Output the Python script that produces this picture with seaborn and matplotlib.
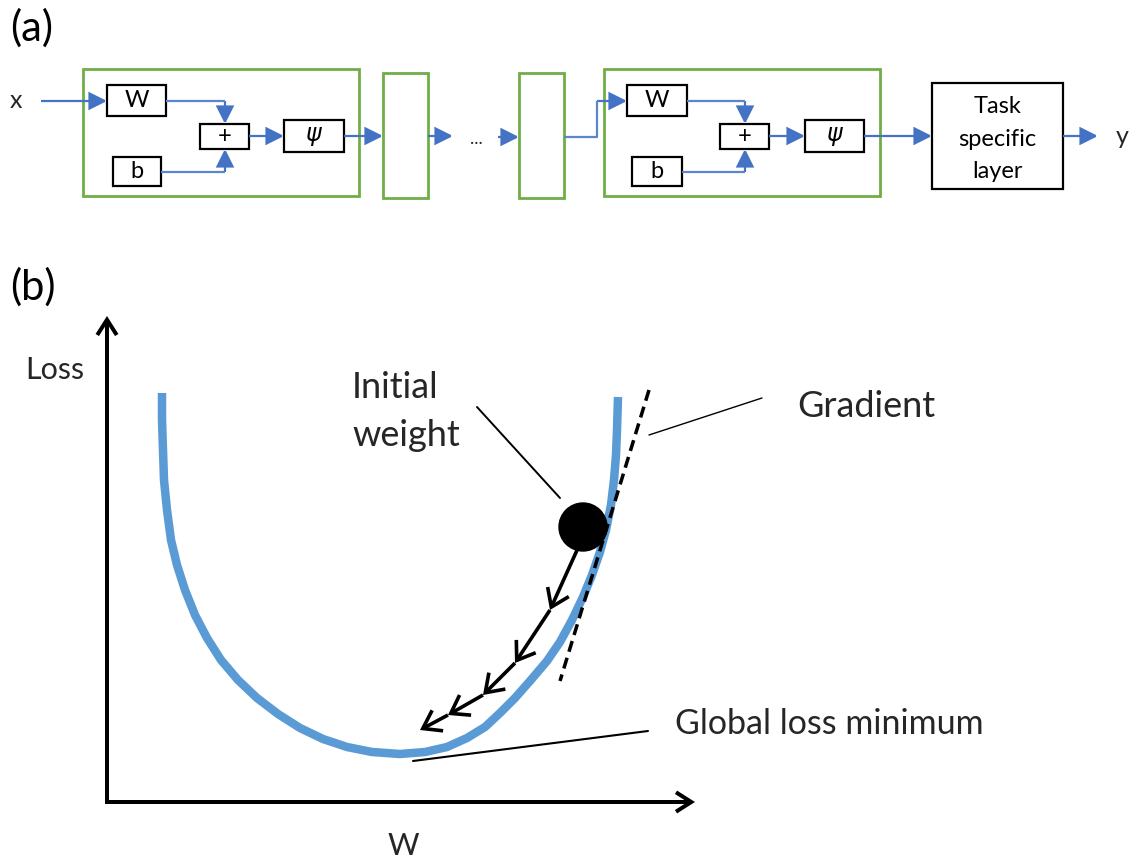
import matplotlib
matplotlib.use("Agg")
import matplotlib.pyplot as plt
from matplotlib.patches import Rectangle, Circle, FancyArrowPatch, ArrowStyle
import numpy as np
import pandas as pd
import seaborn as sns

# ---------------- data (pixel coordinates) ----------------
# Panel (b): loss curve
curve_w = [162, 162, 163, 164, 167, 171, 177, 185, 195, 207, 221, 238, 257, 278, 300,
           323, 347, 372, 400, 425, 447, 467, 485, 500, 515, 530, 547, 560, 572, 583,
           592, 600, 606, 611, 614, 616, 617, 618]
curve_loss = [393, 420, 450, 480, 510, 540, 565, 590, 615, 638, 660, 680, 698, 714, 728,
              739, 747, 752, 754, 752, 747, 738, 727, 713, 698, 681, 661, 642, 620, 597,
              575, 552, 530, 505, 480, 455, 430, 397]
# tangent (gradient) line end points
tangent_w = [649, 560]
tangent_loss = [390, 681]
# initial weight ball
ball_w, ball_loss = 583, 527
# gradient descent steps
step_w = [578, 550, 515, 483, 448, 420]
step_loss = [548, 610, 663, 695, 715, 730]
# leader lines: (x0, y0, x1, y1)
leader_initial = (477, 407, 560, 498)
leader_gradient = (649, 435, 762, 398)
leader_minimum = (413, 761, 648, 731)

# Panel (a): blocks (x0, y0, x1, y1)
green_blocks = [(83, 69, 359, 196), (383, 73, 428, 198), (519, 73, 564, 198), (604, 69, 880, 196)]
black_boxes = [(107, 85, 166, 116), (113, 157, 161, 186), (200, 124, 249, 149), (284, 120, 344, 152),
               (627, 85, 687, 116), (632, 157, 682, 186), (720, 124, 769, 149), (805, 120, 864, 152),
               (932, 83, 1063, 189)]
box_labels = ["W", "b", "+", r"$\psi$", "W", "b", "+", r"$\psi$", ""]
task_lines = ["Task", "specific", "layer"]

BLUE = "#4472C4"
LINEBLUE = "#5B86CC"
GREEN = "#70AD47"
CURVE = "#5B9BD5"

sns.set_theme(style="white")
plt.rcParams["font.family"] = ["Lato", "DejaVu Sans"]
plt.rcParams["mathtext.fontset"] = "dejavusans"

fig = plt.figure(figsize=(11.34, 8.58), dpi=100)
ax = fig.add_axes([0, 0, 1, 1])

PX = 0.72  # points per pixel


def arrow(p0, p1, color=BLUE, lw=1.6, style="-|>", hl=0.9, hw=0.45, ms=12):
    a = FancyArrowPatch(p0, p1, arrowstyle=ArrowStyle(style, head_length=hl, head_width=hw),
                        mutation_scale=ms, color=color, lw=lw, shrinkA=0, shrinkB=0,
                        joinstyle="miter", capstyle="butt")
    ax.add_patch(a)


def poly(xs, ys, color=LINEBLUE, lw=1.6):
    ax.plot(xs, ys, color=color, lw=lw, solid_capstyle="butt")


# ---------------- Panel (b) curve via seaborn ----------------
df = pd.DataFrame({"w": curve_w, "loss": curve_loss})
sns.lineplot(data=df, x="w", y="loss", sort=False, estimator=None, ax=ax, color=CURVE,
             lw=8.5 * PX, solid_capstyle="butt", solid_joinstyle="round")
ax.set_xlim(0, 1134)
ax.set_ylim(858, 0)
ax.axis("off")

# ---------------- Panel (a) ----------------
ax.text(10, 28, "(a)", fontsize=30, ha="left", va="center", color="black")
for (x0, y0, x1, y1) in green_blocks:
    ax.add_patch(Rectangle((x0, y0), x1 - x0, y1 - y0, fill=False, ec=GREEN, lw=2.0))
for (x0, y0, x1, y1), lab in zip(black_boxes, box_labels):
    ax.add_patch(Rectangle((x0, y0), x1 - x0, y1 - y0, fill=False, ec="black", lw=1.6))
    if lab:
        ax.text((x0 + x1) / 2, (y0 + y1) / 2, lab, fontsize=17, ha="center", va="center",
                color="black")
for t, yb in zip(task_lines, [113, 146, 178]):
    ax.text(997.5, yb, t, fontsize=17, ha="center", va="baseline", color="black")

ax.text(16, 100, "x", fontsize=18, ha="center", va="center")
ax.text(1122, 136, "y", fontsize=18, ha="center", va="center")
ax.text(476, 139, "...", fontsize=13, ha="center", va="center")

# connections block 1
arrow((41, 101), (107, 101))
poly([166, 225], [101, 101]); arrow((225, 101), (225, 124))
poly([161, 225], [172, 172]); arrow((225, 172), (225, 149))
arrow((249, 136), (284, 136))
arrow((344, 136), (383, 136))
arrow((428, 136), (453, 136))
arrow((498, 137), (519, 137))
poly([564, 597, 597], [137, 137, 101]); arrow((597, 101), (627, 101))
# block 4
poly([687, 745], [101, 101]); arrow((745, 101), (745, 124))
poly([682, 745], [172, 172]); arrow((745, 172), (745, 149))
arrow((769, 136), (805, 136))
arrow((864, 136), (932, 136))
arrow((1063, 136), (1098, 136))

# ---------------- Panel (b) ----------------
ax.text(10, 287, "(b)", fontsize=30, ha="left", va="center", color="black")

# axes arrows
arrow((107, 803), (107, 316), color="black", lw=4 * PX, style="->", hl=0.55, hw=0.35, ms=20)
arrow((105, 802), (695, 802), color="black", lw=4 * PX, style="->", hl=0.55, hw=0.35, ms=20)

# tangent
ax.plot(tangent_w, tangent_loss, color="black", lw=3.5 * PX, ls=(0, (3.2, 1.8)))

# leader lines
for (x0, y0, x1, y1), lw in [(leader_initial, 1.4), (leader_gradient, 1.0), (leader_minimum, 1.5)]:
    ax.plot([x0, x1], [y0, y1], color="black", lw=lw)

# gradient descent steps
for i in range(len(step_w) - 1):
    arrow((step_w[i], step_loss[i]), (step_w[i + 1], step_loss[i + 1]), color="black",
          lw=2.6, style="->", hl=0.55, hw=0.38, ms=22)

# ball
ax.add_patch(Circle((ball_w, ball_loss), 24, color="black", zorder=5))

# labels
ax.text(25, 370, "Loss", fontsize=22, ha="left", va="center")
ax.text(352, 398, "Initial", fontsize=26, ha="left", va="baseline")
ax.text(352, 446, "weight", fontsize=26, ha="left", va="baseline")
ax.text(797, 417, "Gradient", fontsize=26, ha="left", va="baseline")
ax.text(675, 734, "Global loss minimum", fontsize=24.5, ha="left", va="baseline")
ax.text(403, 855, "W", fontsize=22, ha="center", va="baseline")

fig.savefig("out.png", dpi=100)
